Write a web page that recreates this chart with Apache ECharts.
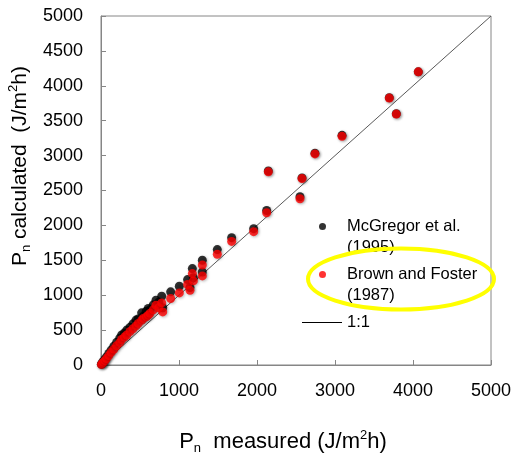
<!DOCTYPE html>
<html><head><meta charset="utf-8">
<script src="https://cdn.jsdelivr.net/npm/echarts@6/dist/echarts.min.js"></script>
<style>html,body{margin:0;padding:0;background:#fff}#c{width:519px;height:462px}</style>
</head><body><div id="c"></div>
<script>
// measured Pn (J/m2h)
const measured = [5, 15, 30, 50, 70, 100, 130, 165, 200, 240, 265, 300, 330, 372, 410, 449, 478, 521, 542, 580, 606, 628, 670, 705, 740, 778, 791, 893, 1004, 1110, 1141, 1171, 1184, 1299, 1299, 1491, 1675, 1957, 2124, 2145, 2551, 2577, 2743, 3090, 3696, 3786, 4068];
// calculated, McGregor et al. (1995)
const mcgregor = [12, 28, 50, 80, 115, 165, 214, 270, 325, 385, 430, 460, 500, 540, 590, 643, 660, 747, 700, 770, 810, 790, 860, 929, 900, 986, 820, 1048, 1128, 1224, 1110, 1381, 1250, 1333, 1500, 1653, 1824, 1953, 2214, 2780, 2410, 2680, 3035, 3290, 3830, 3600, 4200];
// calculated, Brown and Foster (1987)
const brownFoster = [6, 20, 38, 62, 92, 135, 180, 225, 275, 320, 365, 400, 430, 480, 520, 560, 596, 640, 667, 690, 714, 740, 790, 857, 820, 890, 761, 953, 1033, 1153, 1071, 1310, 1205, 1276, 1433, 1586, 1771, 1910, 2181, 2767, 2381, 2671, 3024, 3276, 3824, 3595, 4200];
const oneToOne = [0, 5000];
const seriesNames = ['McGregor et al.\n(1995)', 'Brown and Foster\n(1987)', '1:1'];

const FONT = 'Liberation Sans';
const chart = echarts.init(document.getElementById('c'), null, {renderer: 'canvas'});
const pairs = (xs, ys) => xs.map((x, i) => [x, ys[i]]);
const shadow = {shadowBlur: 3, shadowColor: 'rgba(0,0,0,0.35)', shadowOffsetX: 1, shadowOffsetY: 1};
const legendRich = {
  b: {fontFamily: FONT, fontSize: 16.5, lineHeight: 21, color: '#000'},
  p: {width: 16, lineHeight: 21},
  t: {fontFamily: FONT, fontSize: 16.5, lineHeight: 21, color: '#000'}
};
const dotFormatter = name => '{b| }\n' + name.split('\n').map(l => '{p|}{t|' + l + '}').join('\n');
const legendBase = {
  orient: 'vertical', padding: 0, itemGap: 0, selectedMode: false,
  textStyle: {fontFamily: FONT, fontSize: 16.5, lineHeight: 21, color: '#000', rich: legendRich}
};
const makeTitleRich = size => ({
  m: {fontFamily: FONT, fontSize: size, color: '#000', lineHeight: 26},
  s: {fontFamily: FONT, fontSize: 13, color: '#000', verticalAlign: 'bottom', lineHeight: 15},
  u: {fontFamily: FONT, fontSize: 13, color: '#000', verticalAlign: 'top', lineHeight: 15}
});
chart.setOption({
  animation: false,
  grid: {left: 101, top: 16, width: 390, height: 349, show: true, borderColor: '#868686', borderWidth: 1},
  xAxis: {
    type: 'value', min: 0, max: 5000, interval: 1000,
    axisLine: {lineStyle: {color: '#868686'}},
    axisTick: {inside: true, length: 5, lineStyle: {color: '#868686'}},
    splitLine: {show: false},
    axisLabel: {fontFamily: FONT, fontSize: 18, color: '#000', margin: 17, formatter: v => String(v)}
  },
  yAxis: {
    type: 'value', min: 0, max: 5000, interval: 500,
    axisLine: {lineStyle: {color: '#868686'}},
    axisTick: {inside: true, length: 5, lineStyle: {color: '#868686'}},
    splitLine: {show: false},
    axisLabel: {fontFamily: FONT, fontSize: 18, color: '#000', margin: 18, formatter: v => String(v)}
  },
  legend: [
    Object.assign({}, legendBase, {data: [seriesNames[0]], left: 319, top: 195, icon: 'circle',
      itemWidth: 7, itemHeight: 7, formatter: dotFormatter}),
    Object.assign({}, legendBase, {data: [seriesNames[1]], left: 319, top: 243, icon: 'circle',
      itemWidth: 7, itemHeight: 7, formatter: dotFormatter}),
    Object.assign({}, legendBase, {data: [seriesNames[2]], left: 302, top: 312, icon: 'rect',
      itemWidth: 40, itemHeight: 1})
  ],
  series: [
    {name: seriesNames[0], type: 'scatter', symbolSize: 9, data: pairs(measured, mcgregor),
      itemStyle: Object.assign({color: '#000'}, shadow), z: 3},
    {name: seriesNames[1], type: 'scatter', symbolSize: 9, data: pairs(measured, brownFoster),
      itemStyle: Object.assign({color: '#ff0000'}, shadow), z: 4},
    {name: seriesNames[2], type: 'line', showSymbol: false, symbol: 'none', data: pairs(oneToOne, oneToOne),
      lineStyle: {color: '#595959', width: 1}, itemStyle: {color: '#000'}, z: 2}
  ],
  graphic: [
    {type: 'text', x: 20, y: 166, rotation: Math.PI / 2, z: 50,
      style: {text: '{m|P}{s|n}{m| calculated  (J/m}{u|2}{m|h)}', align: 'center', verticalAlign: 'middle', rich: makeTitleRich(21)}},
    {type: 'text', x: 283, y: 442, z: 50,
      style: {text: '{m|P}{s|n}{m|  measured (J/m}{u|2}{m|h)}', align: 'center', verticalAlign: 'middle', rich: makeTitleRich(22)}},
    {type: 'ellipse', z: 100, shape: {cx: 401, cy: 279, rx: 93, ry: 30.5},
      style: {fill: 'none', stroke: '#ffff00', lineWidth: 4}}
  ]
});
</script>
</body></html>
